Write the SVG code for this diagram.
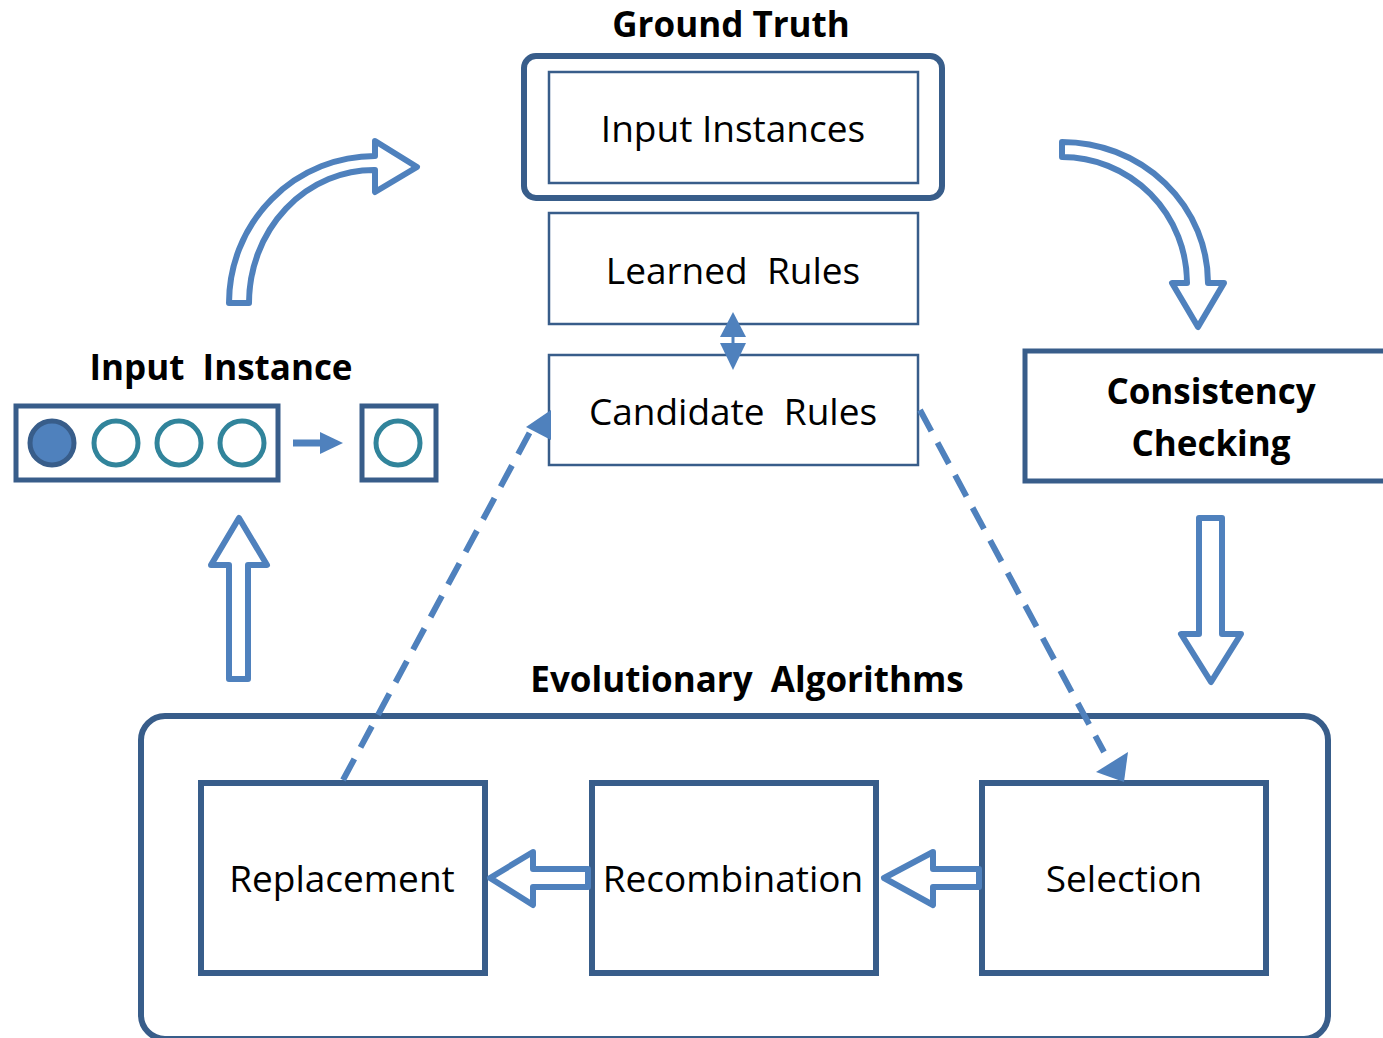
<svg xmlns="http://www.w3.org/2000/svg" width="1383" height="1038" viewBox="0 0 1383 1038">
<style>
text{font-family:"Open Sans","Noto Sans","Liberation Sans",sans-serif;fill:#000;text-anchor:middle;white-space:pre}
.t{font-size:37px}
.b{font-size:35px;font-weight:bold}
.box{fill:#fff;stroke:#385D8A}
.blk{fill:#fff;stroke:#4F81BD;stroke-width:6;stroke-linejoin:round}
.dash{fill:none;stroke:#4F81BD;stroke-width:6;stroke-dasharray:24 13}
.c{fill:#fff;stroke:#31849B;stroke-width:5}
.fill{fill:#4F81BD}
</style>
<rect width="1383" height="1038" fill="#fff"/>
<g id="ground-truth">
<text class="b" x="731" y="37">Ground Truth</text>
<rect class="box" x="524" y="56" width="418" height="142" rx="12" stroke-width="6"/>
</g>
<g id="input-instances">
<rect class="box" x="549" y="72" width="369" height="111" stroke-width="2.5"/>
<text class="t" x="733" y="142">Input Instances</text>
</g>
<g id="learned-rules">
<rect class="box" x="549" y="213" width="369" height="111" stroke-width="2.5"/>
<text class="t" x="733" y="284">Learned  Rules</text>
</g>
<g id="candidate-rules">
<rect class="box" x="549" y="355" width="369" height="110" stroke-width="2.5"/>
<text class="t" x="733" y="425">Candidate  Rules</text>
</g>
<g id="input-instance">
<text class="b" x="221" y="380">Input  Instance</text>
<rect class="box" x="16" y="406" width="262" height="74" stroke-width="5"/>
<circle cx="52" cy="443" r="22" fill="#4F81BD" stroke="#385D8A" stroke-width="5"/>
<circle class="c" cx="116" cy="443" r="22"/>
<circle class="c" cx="179" cy="443" r="22"/>
<circle class="c" cx="242" cy="443" r="22"/>
</g>
<g id="output-instance">
<rect class="box" x="362" y="406" width="74" height="74" stroke-width="5"/>
<circle class="c" cx="398" cy="443" r="22"/>
</g>
<g id="consistency-checking">
<rect class="box" x="1025" y="351" width="370" height="130" stroke-width="5"/>
<text class="b" x="1211" y="404">Consistency</text>
<text class="b" x="1211" y="456">Checking</text>
</g>
<g id="evolutionary-algorithms">
<text class="b" x="747" y="692">Evolutionary  Algorithms</text>
<rect class="box" x="141" y="716" width="1187" height="323" rx="24" stroke-width="6"/>
</g>
<g id="replacement">
<rect class="box" x="201" y="783" width="284" height="190" stroke-width="6"/>
<text class="t" x="342" y="892">Replacement</text>
</g>
<g id="recombination">
<rect class="box" x="592" y="783" width="284" height="190" stroke-width="6"/>
<text class="t" x="733" y="892">Recombination</text>
</g>
<g id="selection">
<rect class="box" x="982" y="783" width="284" height="190" stroke-width="6"/>
<text class="t" x="1124" y="892">Selection</text>
</g>
<g id="connectors">
<path class="blk" d="M229,303 A146,147 0 0 1 375,156 L375,141 L417,167 L375,192 L375,170 A125,133 0 0 0 249,303 Z"/>
<path class="blk" d="M1062,142 A146,141 0 0 1 1208,283 L1224,283 L1198,327 L1172,283 L1187,283 A125,126 0 0 0 1062,157 Z"/>
<path class="blk" d="M229,679 L229,565 L211,565 L239,518 L267,565 L248,565 L248,679 Z"/>
<path class="blk" d="M1199,518 L1222,518 L1222,634 L1241,634 L1211,682 L1181,634 L1199,634 Z"/>
<path class="blk" d="M979,869 L933,869 L933,852 L884,878 L933,905 L933,887 L979,887 Z"/>
<path class="blk" d="M588,869 L533,869 L533,852 L490,878 L533,905 L533,887 L588,887 Z"/>
<path d="M293,443 L321,443" stroke="#4F81BD" stroke-width="7"/>
<path class="fill" d="M320,432 L343,443 L320,454 Z"/>
<path d="M733,335 L733,345" stroke="#4F81BD" stroke-width="3"/>
<path class="fill" d="M733,312 L746,337 L720,337 Z"/>
<path class="fill" d="M733,370 L746,343 L720,343 Z"/>
<path class="dash" d="M343,780 L530,432"/>
<path class="fill" d="M551,410 L551,440 L526,427 Z"/>
<path class="dash" d="M920,410 L1104,752"/>
<path class="fill" d="M1124,782 L1096,772 L1128,752 Z"/>
</g>
</svg>
